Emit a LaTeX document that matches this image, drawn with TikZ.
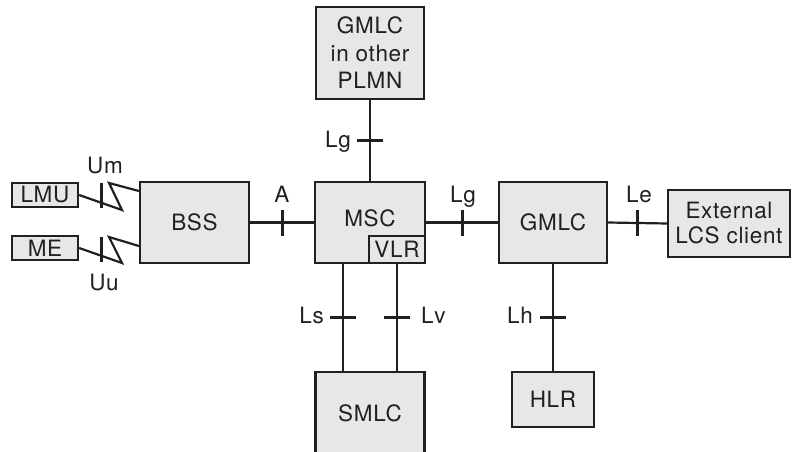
\documentclass[tikz,border=0pt]{standalone}
\usepackage{fontspec}
\setmainfont{TeX Gyre Heros}[LetterSpace=3]
\usetikzlibrary{calc}
\definecolor{ink}{HTML}{231F20}
\definecolor{boxfill}{HTML}{E6E7E8}
\begin{document}
\begin{tikzpicture}[x=1pt,y=-1pt,
  font=\fontsize{22.5}{27}\selectfont, text=ink,
  box/.style={draw=ink, fill=boxfill, line width=2.2pt, inner sep=0pt, align=center},
  link/.style={draw=ink, line width=2.2pt},
  tickmark/.style={draw=ink, line width=3pt},
  lbl/.style={inner sep=0pt}]
\useasboundingbox (0,0) rectangle (793,452);
\clip (0,0) rectangle (793,452);

% boxes
\node[box, minimum width=108pt, minimum height=92pt] (gmlco) at (370,53) {GMLC\\[0.5pt]in other\\[0.5pt]PLMN};
\node[box, minimum width=110pt, minimum height=81pt, text depth=9pt] (msc) at (370,222.5) {MSC};
\node[box, minimum width=56pt, minimum height=27pt] (vlr) at (397,249.5) {VLR};
\node[box, minimum width=109pt, minimum height=81pt] (bss) at (194.5,222.5) {BSS};
\node[box, minimum width=108pt, minimum height=81pt] (gmlc) at (553,222.5) {GMLC};
\node[box, minimum width=122pt, minimum height=67pt] (ext) at (729,223.5) {External\\[-2pt]LCS client};
\node[box, minimum width=66pt, minimum height=24pt] (lmu) at (45,195) {LMU};
\node[box, minimum width=66pt, minimum height=24pt] (me) at (45,248) {ME};
\node[box, minimum width=109pt, minimum height=82pt] (smlc) at (370,413) {SMLC};
\node[box, minimum width=82pt, minimum height=55pt] (hlr) at (553,399.5) {HLR};

% connectors
\draw[link] (bss.east) -- (msc.west);
\draw[link] (msc.east) -- (gmlc.west);
\draw[link] (gmlc.east) -- (ext.west);
\draw[link] (gmlco.south) -- (msc.north);
\draw[link] ([xshift=-27pt]msc.south) -- ([xshift=-27pt]smlc.north);
\draw[link] ([xshift=27pt]msc.south) -- ([xshift=27pt]smlc.north);
\draw[link] (gmlc.south) -- (hlr.north);
\draw[link] (lmu.east) -- (122,210) -- (109,183) -- ([yshift=31.5pt]bss.west);
\draw[link] (me.east) -- (122,263) -- (109,237) -- ([yshift=-23.5pt]bss.west);

% ticks
\coordinate (tA) at ($(bss.east)!0.5!(msc.west)$);
\coordinate (tLg) at ($(msc.east)!0.5!(gmlc.west)$);
\coordinate (tLe) at ($(gmlc.east)!0.5!(ext.west)$);
\coordinate (tLgo) at ($(gmlco.south)!0.5!(msc.north)$);
\coordinate (tLs) at ($([xshift=-27pt]msc.south)!0.5!([xshift=-27pt]smlc.north)$);
\coordinate (tLv) at ($([xshift=27pt]msc.south)!0.5!([xshift=27pt]smlc.north)$);
\coordinate (tLh) at ($(gmlc.south)!0.5!(hlr.north)$);
\foreach \t in {tA,tLg,tLe}
  \draw[tickmark] ([yshift=13pt]\t) -- ([yshift=-13pt]\t);
\foreach \t in {tLgo,tLs,tLv,tLh}
  \draw[tickmark] ([xshift=-13pt]\t) -- ([xshift=13pt]\t);
\draw[tickmark] (101,183) -- (101,208);
\draw[tickmark] (101,237) -- (101,262);

% labels
\node[lbl, anchor=base] (lUm) at (105,173) {Um};
\node[lbl, anchor=base] (lUu) at (104,290) {Uu};
\node[lbl, anchor=base] (lA) at (282,202) {A};
\node[lbl, anchor=base] (lLg) at (463,202) {Lg};
\node[lbl, anchor=base] (lLe) at (639,202) {Le};
\node[lbl, anchor=base east] (lLgo) at (351,147) {Lg};
\node[lbl, anchor=base east] (lLs) at (324,323) {Ls};
\node[lbl, anchor=base west] (lLv) at (421,323) {Lv};
\node[lbl, anchor=base east] (lLh) at (533,323) {Lh};
\end{tikzpicture}
\end{document}
